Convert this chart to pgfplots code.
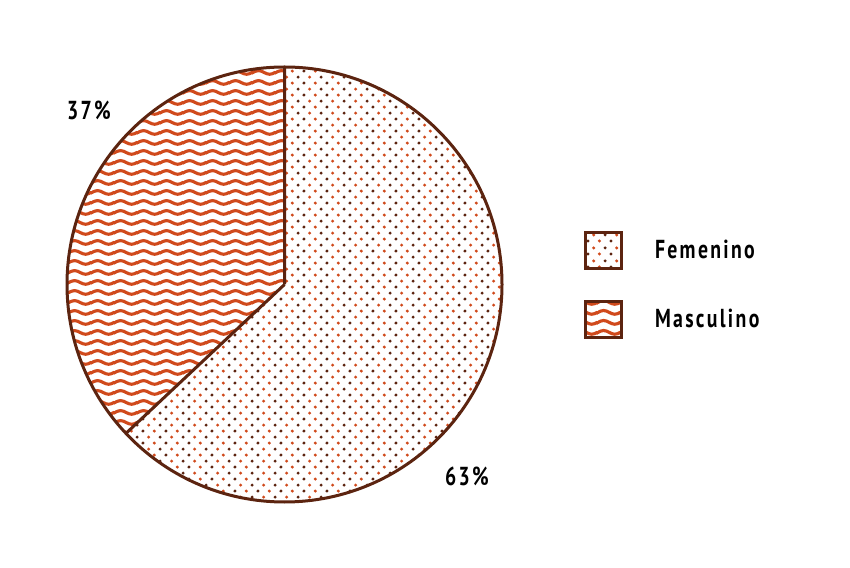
\documentclass[border=0pt]{standalone}
\usepackage{fontspec}
\usepackage{pgfplots}
\usepackage{pgfplotstable}
\pgfplotsset{compat=1.18}
\usetikzlibrary{patterns.meta}
\newfontfamily\lblfont{PT Sans}[FakeStretch=0.76, LetterSpace=9]
\definecolor{piebrown}{RGB}{92,36,16}
\definecolor{pieorange}{RGB}{208,74,28}

% staggered two-colour dots
\tikzdeclarepattern{
  name=bidots, type=colored,
  bottom left={(0pt,0pt)}, top right={(11.7pt,6.2pt)},
  tile size={(11.7pt,6.2pt)},
  code={
    \fill[piebrown] (1.5pt,1.55pt) circle (0.85pt) (10.275pt,4.65pt) circle (0.85pt);
    \fill[pieorange] (7.35pt,1.55pt) circle (0.85pt) (4.425pt,4.65pt) circle (0.85pt);
  }
}
% wavy lines
\tikzdeclarepattern{
  name=waves, type=colored,
  bottom left={(0pt,0pt)}, top right={(11.5pt,5pt)},
  tile size={(11.5pt,5pt)},
  code={
    \draw[pieorange, line width=1.7pt]
      (-11.5pt,2.5pt) sin (-8.625pt,3.5pt) cos (-5.75pt,2.5pt) sin (-2.875pt,1.5pt) cos (0pt,2.5pt)
      sin (2.875pt,3.5pt) cos (5.75pt,2.5pt) sin (8.625pt,1.5pt) cos (11.5pt,2.5pt)
      sin (14.375pt,3.5pt) cos (17.25pt,2.5pt) sin (20.125pt,1.5pt) cos (23pt,2.5pt);
  }
}

\pgfplotstableread{
label value
Femenino 63
Masculino 37
}\piedata

\begin{document}
\begin{tikzpicture}
\pgfplotstablegetelem{0}{value}\of\piedata \let\vF\pgfplotsretval
\pgfmathsetmacro\aF{90-3.6*\vF}
\begin{axis}[
  x=0.5pt, y=0.5pt,
  xmin=0, xmax=850, ymin=0, ymax=567,
  hide axis, clip=false,
  legend image code/.code={\draw[#1] (0pt,-9pt) rectangle (18pt,9pt);},
  legend style={draw=none, fill=none, inner sep=0pt, outer sep=0pt,
    at={(axis cs:584,336)}, anchor=north west, row sep=15pt,
    nodes={inner sep=0pt, font=\lblfont\bfseries\fontsize{13}{15}\selectfont},
    /tikz/every odd column/.append style={column sep=16pt}},
  legend cell align=left,
]
\path (axis cs:0,0) rectangle (axis cs:850,567);
\addlegendimage{pattern=bidots, draw=piebrown, line width=1.5pt}
\addlegendentry{Femenino}
\addlegendimage{pattern=waves, draw=piebrown, line width=1.5pt}
\addlegendentry{Masculino}
\coordinate (c) at (axis cs:284.5,282.5);
\fill[pattern=bidots] (c) -- ++(90:108.75pt) arc[start angle=90, end angle=\aF, radius=108.75pt] -- cycle;
\fill[pattern=waves] (c) -- ++(\aF:108.75pt) arc[start angle=\aF, end angle=-270, radius=108.75pt] -- cycle;
\draw[piebrown, line width=1.5pt] (c) circle (108.75pt);
\draw[piebrown, line width=1.5pt] (c) -- ++(90:108.75pt) (c) -- ++(\aF:108.75pt);
\node[font=\lblfont\bfseries\fontsize{13}{15}\selectfont] at (axis cs:89,457) {37\%};
\node[font=\lblfont\bfseries\fontsize{13}{15}\selectfont] at (axis cs:467,91) {63\%};
\end{axis}
\end{tikzpicture}
\end{document}
